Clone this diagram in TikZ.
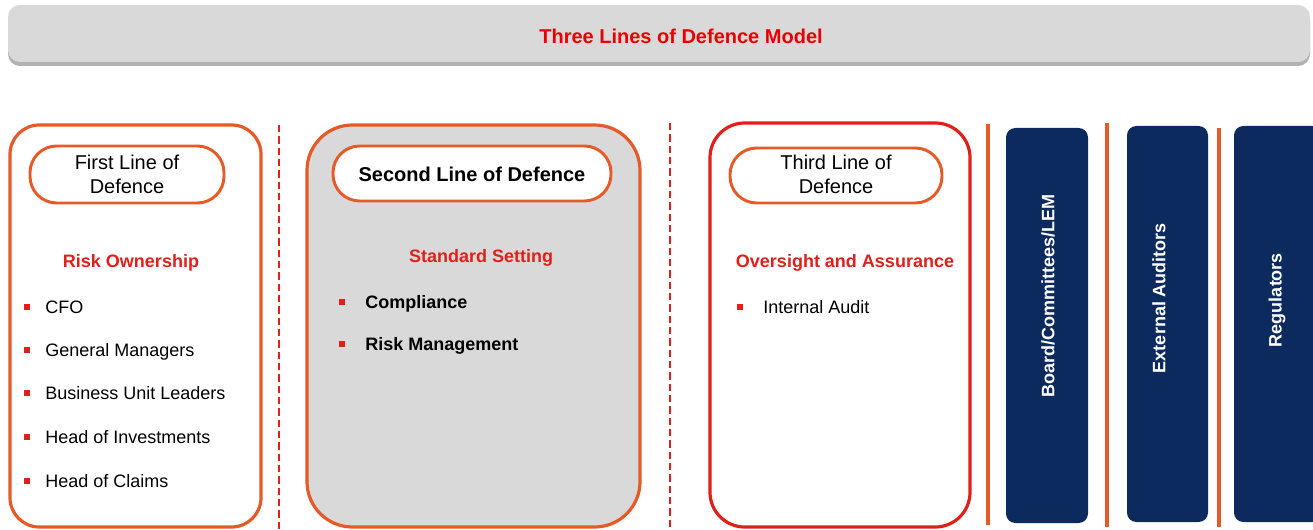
\documentclass[tikz,border=0pt]{standalone}
\usepackage{fontspec}
\setmainfont{Liberation Sans}
\usetikzlibrary{positioning,shadows}
\definecolor{lorange}{HTML}{E65A28}
\definecolor{lred}{HTML}{E0201A}
\definecolor{ltop}{HTML}{E80000}
\definecolor{lnavy}{HTML}{0C2A5E}
\definecolor{lgrey}{HTML}{D9D9D9}
\tikzset{
  lpanel/.style={draw=lorange, line width=2.4pt, rounded corners=22pt},
  lpill/.style={draw=lorange, line width=2.2pt, fill=white, rounded corners=20pt},
  lhead/.style={align=center, font=\fontsize{15}{18}\selectfont, inner sep=0pt},
  lkey/.style={text=lred, font=\bfseries\fontsize{13.5}{16}\selectfont},
  litem/.style={anchor=base west, yshift=-4.9pt, inner sep=0pt,
                font=\fontsize{13.5}{16}\selectfont},
  lmark/.style={fill=lred, minimum size=3.8pt, inner sep=0pt},
  lsep/.style={lred, line width=1.5pt, dash pattern=on 5.5pt off 3pt},
  lrule/.style={lorange, line width=3pt},
  lbar/.style={fill=lnavy, rounded corners=7pt},
  lbartext/.style={rotate=90, text=white, font=\bfseries\fontsize{13.5}{16}\selectfont},
}

\begin{document}
\begin{tikzpicture}[x=0.75pt,y=0.75pt]

  \useasboundingbox (0,0) rectangle (1313,529);

  % banner
  \fill[lgrey, rounded corners=9pt,
        drop shadow={shadow xshift=0pt, shadow yshift=-3pt, opacity=0.55, fill=black!55}]
    (8,467) rectangle (1310,524);
  \node[text=ltop, font=\bfseries\fontsize{15}{18}\selectfont] (title) at (681,493)
    {Three Lines of Defence Model};

  % first line
  \draw[lpanel, fill=white] (10,2) rectangle (261,404);
  \draw[lpill] (30,326) rectangle (224,383);
  \node[lhead] (head1) at (127,355) {First Line of\\Defence};
  \node[lkey] (key1) at (131,266) {Risk Ownership};
  \foreach \y/\t [count=\i] in {222/CFO, 179/General Managers, 136/Business Unit Leaders,
                               92/Head of Investments, 48/Head of Claims}
  {
    \node[lmark] (m1-\i) at (27,\y) {};
    \node[litem] (i1-\i) at (45,\y) {\t};
  }

  \draw[lsep] (279,404) -- (279,0);

  % second line
  \draw[lpanel, fill=lgrey, rounded corners=34pt] (307,2) rectangle (640,404);
  \draw[lpill] (333,328) rectangle (611,383);
  \node[lhead, font=\bfseries\fontsize{15}{18}\selectfont] (head2) at (472,355)
    {Second Line of Defence};
  \node[lkey] (key2) at (481,271) {Standard Setting};
  \foreach \y/\t [count=\i] in {227/Compliance, 185/Risk Management}
  {
    \node[lmark] (m2-\i) at (342,\y) {};
    \node[litem, font=\bfseries\fontsize{13.5}{16}\selectfont] (i2-\i) at (365,\y) {\t};
  }

  \draw[lsep] (670,406) -- (670,0);

  % third line
  \draw[lpanel, draw=lred, fill=white, rounded corners=26pt] (710,2) rectangle (970,406);
  \draw[lpill] (730,326) rectangle (942,381);
  \node[lhead] (head3) at (836,355) {Third Line of\\Defence};
  \node[lkey] (key3) at (845,266) {Oversight and Assurance};
  \node[lmark] (m3-1) at (740,222) {};
  \node[litem] (i3-1) at (763,222) {Internal Audit};

  % outside bodies
  \draw[lrule] (988,4) -- (988,405);
  \fill[lbar] (1006,6) rectangle (1088,401);
  \node[lbartext] (board) at (1048,233) {Board/Committees/LEM};

  \draw[lrule] (1107,2) -- (1107,406);
  \fill[lbar] (1127,7) rectangle (1208,403);
  \node[lbartext] (auditors) at (1159,231) {External Auditors};

  \draw[lrule] (1219,2) -- (1219,401);
  \fill[lbar] (1234,7) rectangle (1322,403);
  \node[lbartext] (regulators) at (1277,229) {Regulators};

\end{tikzpicture}
\end{document}
